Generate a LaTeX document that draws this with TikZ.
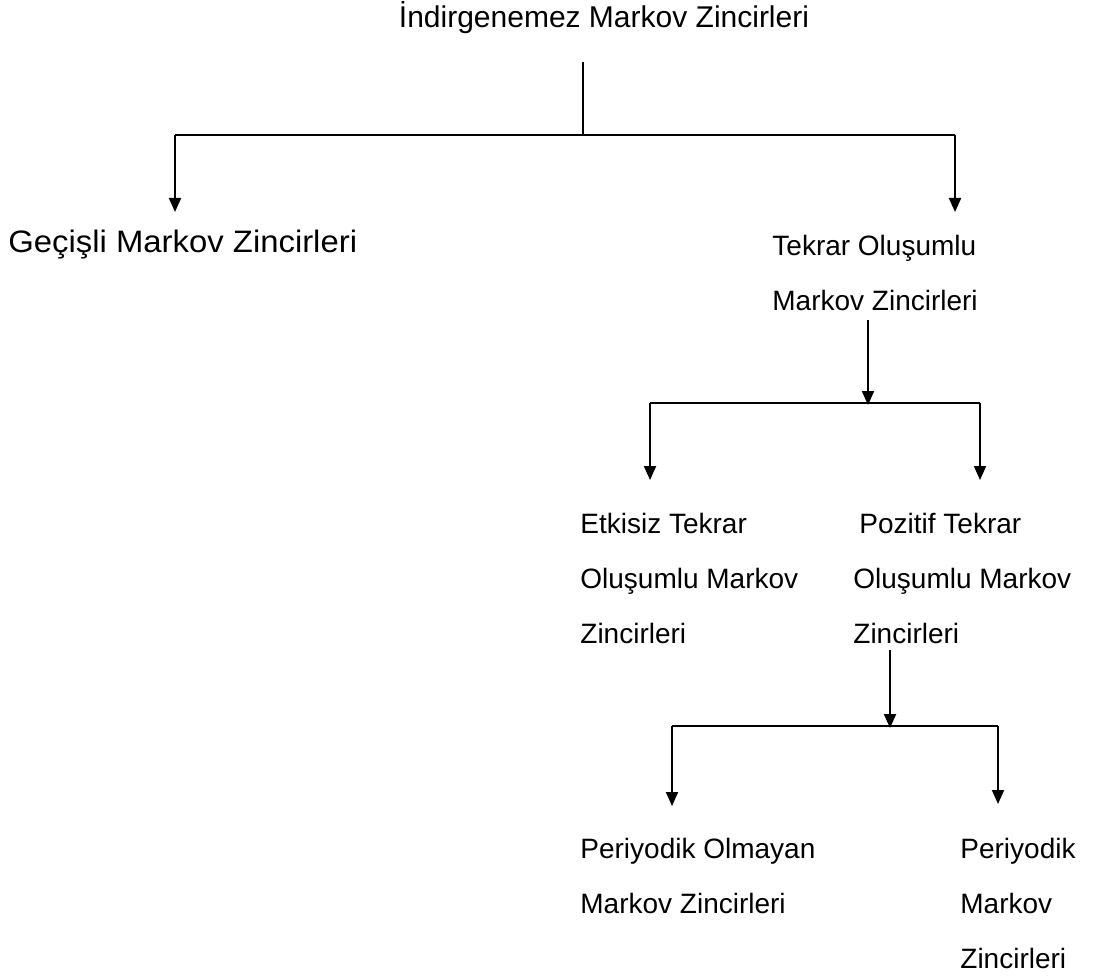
\documentclass[tikz,border=0pt]{standalone}
\usepackage{fontspec}
\setmainfont{Liberation Sans}
\usetikzlibrary{arrows.meta}

\begin{document}
\begin{tikzpicture}[x=0.5pt,y=-0.5pt]
        \tikzstyle{every node}=[font=\fontsize{14}{27.5}\selectfont, inner sep=0pt, align=left, anchor=base west]
        \tikzstyle{link}=[line width=1pt]
        \tikzstyle{arr}=[link, -{Triangle[length=7pt,width=6pt]}]
        \useasboundingbox (0,0) rectangle (1111,978);
        % texts (multi-line nodes sit on their last baseline)
        \node[anchor=base, font=\fontsize{15}{18}\selectfont] (root) at (604,28) {İndirgenemez Markov Zincirleri};
        \node[font=\fontsize{15.5}{18}\selectfont] (gecisli) at (8,253) {\scalebox{1.06}[1]{Geçişli Markov Zincirleri}};
        \node (tekrar) at (772,310) {Tekrar Oluşumlu\\Markov Zincirleri};
        \node (etkisiz) at (580,643) {Etkisiz Tekrar\\Oluşumlu Markov\\Zincirleri};
        \node (pozitif) at (853,643) {\hspace{3pt}Pozitif Tekrar\\Oluşumlu Markov\\Zincirleri};
        \node (olmayan) at (580,913) {Periyodik Olmayan\\Markov Zincirleri};
        \node (periyodik) at (960,968) {Periyodik\\Markov\\Zincirleri};
        % level 1
        \coordinate (r0) at (583,62);
        \coordinate (r1) at (583,135);
        \coordinate (gl) at (175,135);
        \coordinate (gt) at (175,212);
        \coordinate (tr) at (955,135);
        \coordinate (tt) at (955,212);
        \draw[link] (r0) -- (r1);
        \draw[link] (gl) -- (tr);
        \draw[arr] (gl) -- (gt);
        \draw[arr] (tr) -- (tt);
        % level 2
        \coordinate (t0) at (868,320);
        \coordinate (t1) at (868,405);
        \coordinate (el) at (650,403);
        \coordinate (et) at (650,480);
        \coordinate (pr) at (980,403);
        \coordinate (pt) at (980,480);
        \draw[arr] (t0) -- (t1);
        \draw[link] (el) -- (pr);
        \draw[arr] (el) -- (et);
        \draw[arr] (pr) -- (pt);
        % level 3
        \coordinate (p0) at (890,650);
        \coordinate (p1) at (890,728);
        \coordinate (ol) at (672,726);
        \coordinate (ot) at (672,806);
        \coordinate (yr) at (998,726);
        \coordinate (yt) at (998,804);
        \draw[arr] (p0) -- (p1);
        \draw[link] (ol) -- (yr);
        \draw[arr] (ol) -- (ot);
        \draw[arr] (yr) -- (yt);
\end{tikzpicture}
\end{document}
